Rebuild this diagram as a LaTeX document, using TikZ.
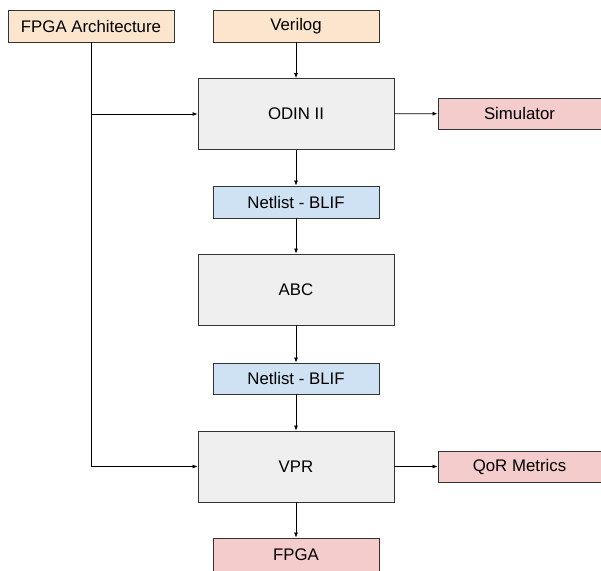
\documentclass[tikz,border=0pt]{standalone}
\usepackage{fontspec}
\setmainfont{Liberation Sans}
\usetikzlibrary{arrows.meta}
\definecolor{inorange}{HTML}{FCE5CD}
\definecolor{toolgray}{HTML}{EFEFEF}
\definecolor{netblue}{HTML}{CFE2F3}
\definecolor{outred}{HTML}{F4CCCC}
\definecolor{edgec}{HTML}{333333}
\begin{document}
\begin{tikzpicture}[x=1pt,y=-1pt,
  box/.style={draw=edgec, line width=0.9pt, inner sep=0pt, font=\fontsize{16.8}{19}\selectfont},
  small/.style={box, minimum width=166pt, minimum height=32pt},
  tool/.style={box, fill=toolgray, minimum width=196pt, minimum height=71pt},
  side/.style={box, fill=outred, minimum width=166pt, minimum height=31pt},
  conn/.style={draw=black, line width=0.7pt, -{Latex[length=5pt,width=4pt]}}]
\useasboundingbox (0,0) rectangle (601,570);
\node[small, fill=inorange] (arch) at (91,26) {FPGA Architecture};
\node[small, fill=inorange] (verilog) at (296,26) {Verilog};
\node[tool] (odin) at (296,114) {ODIN II};
\node[side] (sim) at (521,113.5) {\hspace*{-3pt}Simulator};
\node[small, fill=netblue] (net1) at (296,202) {Netlist - BLIF};
\node[tool] (abc) at (296,289.5) {ABC};
\node[small, fill=netblue, minimum height=31pt] (net2) at (296,378.5) {Netlist - BLIF};
\node[tool] (vpr) at (296,466.5) {VPR};
\node[side] (qor) at (521,466.5) {\hspace*{-3pt}QoR Metrics};
\node[small, fill=outred, minimum height=35pt] (fpga) at (296,555.5) {\raisebox{1.5pt}{FPGA}};
\draw[conn] (verilog) -- (odin);
\draw[conn] (arch.south) |- (vpr.west);
\draw[conn] (arch.south |- odin.west) -- (odin.west);
\draw[conn] (odin) -- (sim);
\draw[conn] (odin) -- (net1);
\draw[conn] (net1) -- (abc);
\draw[conn] (abc) -- (net2);
\draw[conn] (net2) -- (vpr);
\draw[conn] (vpr) -- (qor);
\draw[conn] (vpr) -- (fpga);
\end{tikzpicture}
\end{document}
